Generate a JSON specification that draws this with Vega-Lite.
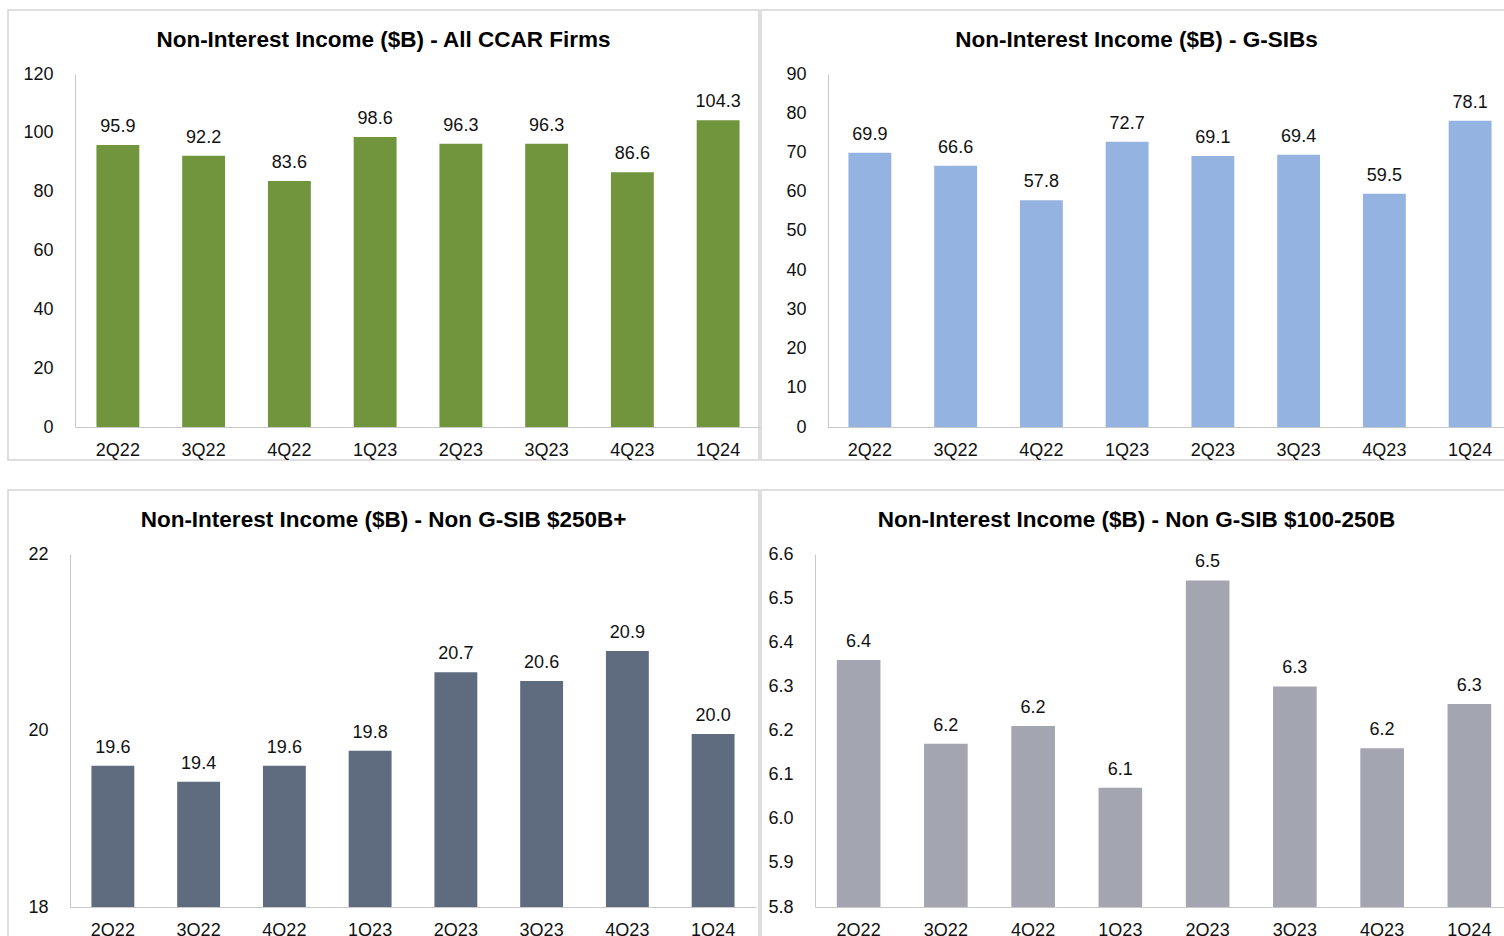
{
  "$schema": "https://vega.github.io/schema/vega-lite/v6.json",
  "padding": {"left": 7, "top": 9, "right": 0, "bottom": 0},
  "background": "white",
  "config": {
    "font": "Liberation Sans",
    "view": {"stroke": "#d4d4d4", "strokeWidth": 1.5},
    "title": {"fontSize": 22.5, "fontWeight": "bold", "color": "#000", "anchor": "middle", "frame": "group", "baseline": "alphabetic", "offset": -41},
    "axis": {"labelFontSize": 18, "labelColor": "#111", "domainColor": "#c8c8c8", "domainWidth": 1, "ticks": false, "tickSize": 0, "grid": false, "title": null},
    "axisX": {"offset": -33, "labelPadding": 14, "labelAngle": 0},
    "axisY": {"labelPadding": 22},
    "text": {"fontSize": 18, "color": "#111", "baseline": "alphabetic", "dy": -13}
  },
  "datasets": {
    "d": [
      {"q": "2Q22", "all": 95.9, "gsib": 69.9, "ng250": 19.6, "ng100": 6.36},
      {"q": "3Q22", "all": 92.2, "gsib": 66.6, "ng250": 19.42, "ng100": 6.17},
      {"q": "4Q22", "all": 83.6, "gsib": 57.8, "ng250": 19.6, "ng100": 6.21},
      {"q": "1Q23", "all": 98.6, "gsib": 72.7, "ng250": 19.77, "ng100": 6.07},
      {"q": "2Q23", "all": 96.3, "gsib": 69.1, "ng250": 20.66, "ng100": 6.54},
      {"q": "3Q23", "all": 96.3, "gsib": 69.4, "ng250": 20.56, "ng100": 6.30},
      {"q": "4Q23", "all": 86.6, "gsib": 59.5, "ng250": 20.9, "ng100": 6.16},
      {"q": "1Q24", "all": 104.3, "gsib": 78.1, "ng250": 19.96, "ng100": 6.26}
    ]
  },
  "data": {"name": "d"},
  "spacing": 28,
  "vconcat": [
    {
      "spacing": 0,
      "hconcat": [
        {
          "width": 751, "height": 450,
          "title": {"text": "Non-Interest Income ($B) - All CCAR Firms"},
          "encoding": {
            "x": {"field": "q", "type": "ordinal", "sort": null, "scale": {"range": [67, 753], "paddingInner": 0.5, "paddingOuter": 0.25}},
            "y": {"field": "all", "type": "quantitative", "scale": {"domain": [0, 120], "range": [417, 64], "nice": false, "zero": false}, "axis": {"offset": -67, "values": [0, 20, 40, 60, 80, 100, 120]}}
          },
          "layer": [
            {"mark": {"type": "bar", "color": "#70953d"}, "encoding": {"y2": {"datum": 0}}},
            {"mark": {"type": "text"}, "encoding": {"text": {"field": "all", "type": "quantitative", "format": ".1f"}}}
          ]
        },
        {
          "width": 751, "height": 450,
          "title": {"text": "Non-Interest Income ($B) - G-SIBs"},
          "encoding": {
            "x": {"field": "q", "type": "ordinal", "sort": null, "scale": {"range": [66, 752], "paddingInner": 0.5, "paddingOuter": 0.25}},
            "y": {"field": "gsib", "type": "quantitative", "scale": {"domain": [0, 90], "range": [417, 64], "nice": false, "zero": false}, "axis": {"offset": -67, "values": [0, 10, 20, 30, 40, 50, 60, 70, 80, 90]}}
          },
          "layer": [
            {"mark": {"type": "bar", "color": "#95b3e0"}, "encoding": {"y2": {"datum": 0}}},
            {"mark": {"type": "text"}, "encoding": {"text": {"field": "gsib", "type": "quantitative", "format": ".1f"}}}
          ]
        }
      ]
    },
    {
      "spacing": 0,
      "hconcat": [
        {
          "width": 751, "height": 450,
          "title": {"text": "Non-Interest Income ($B) - Non G-SIB $250B+"},
          "encoding": {
            "x": {"field": "q", "type": "ordinal", "sort": null, "scale": {"range": [62, 748], "paddingInner": 0.5, "paddingOuter": 0.25}},
            "y": {"field": "ng250", "type": "quantitative", "scale": {"domain": [18, 22], "range": [417, 64], "nice": false, "zero": false}, "axis": {"offset": -62, "values": [18, 20, 22]}}
          },
          "layer": [
            {"mark": {"type": "bar", "color": "#5f6b7e"}, "encoding": {"y2": {"datum": 18}}},
            {"mark": {"type": "text"}, "encoding": {"text": {"field": "ng250", "type": "quantitative", "format": ".1f"}}}
          ]
        },
        {
          "width": 751, "height": 450,
          "title": {"text": "Non-Interest Income ($B) - Non G-SIB $100-250B"},
          "encoding": {
            "x": {"field": "q", "type": "ordinal", "sort": null, "scale": {"range": [54, 752], "paddingInner": 0.5, "paddingOuter": 0.25}},
            "y": {"field": "ng100", "type": "quantitative", "scale": {"domain": [5.8, 6.6], "range": [417, 64], "nice": false, "zero": false}, "axis": {"offset": -54, "values": [5.8, 5.9, 6.0, 6.1, 6.2, 6.3, 6.4, 6.5, 6.6], "format": ".1f"}}
          },
          "layer": [
            {"mark": {"type": "bar", "color": "#a3a5b1"}, "encoding": {"y2": {"datum": 5.8}}},
            {"mark": {"type": "text"}, "encoding": {"text": {"field": "ng100", "type": "quantitative", "format": ".1f"}}}
          ]
        }
      ]
    }
  ]
}
